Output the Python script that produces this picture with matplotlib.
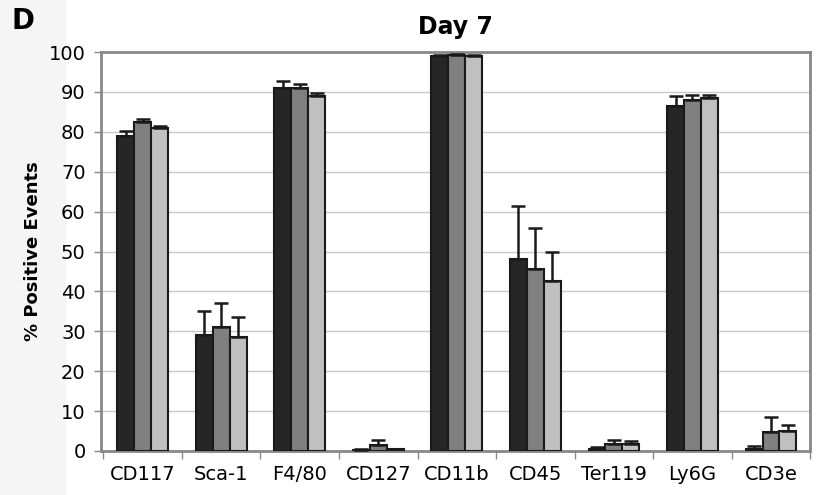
import matplotlib.pyplot as plt
import numpy as np

markers = ['CD117', 'Sca-1', 'F4/80', 'CD127', 'CD11b', 'CD45', 'Ter119', 'Ly6G', 'CD3e']

# three groups per marker, mean % positive and upper error
group1 = [79.0, 29.0, 91.0, 0.3, 99.0, 48.0, 0.5, 86.5, 0.5]
group2 = [82.5, 31.0, 91.0, 1.5, 99.2, 45.5, 1.8, 88.0, 4.7]
group3 = [81.0, 28.5, 89.0, 0.4, 99.0, 42.5, 1.8, 88.5, 5.0]
err1 = [1.3, 6.0, 1.8, 0.2, 0.3, 13.5, 0.5, 2.5, 0.8]
err2 = [0.8, 6.0, 1.0, 1.2, 0.2, 10.5, 0.9, 1.3, 3.8]
err3 = [0.5, 5.0, 0.8, 0.2, 0.2, 7.5, 0.7, 0.8, 1.5]

colors = ['#262626', '#808080', '#c0c0c0']

fig = plt.figure(figsize=(8.18, 4.95), dpi=100)
fig.patches.append(plt.Rectangle((0, 0), 0.079, 1, transform=fig.transFigure,
                                 color='#f5f5f5', zorder=-1))
ax = fig.add_axes([0.1235, 0.0889, 0.867, 0.806])

x = np.arange(len(markers))
w = 0.215
for i, (vals, errs) in enumerate(zip([group1, group2, group3], [err1, err2, err3])):
    ax.bar(x + (i - 1) * w, vals, w, color=colors[i], edgecolor='#1a1a1a',
           linewidth=1.5, zorder=3)
    ax.errorbar(x + (i - 1) * w, vals, yerr=[np.zeros(len(errs)), errs], fmt='none',
                ecolor='#1a1a1a', elinewidth=1.8, capsize=5, capthick=1.8, zorder=4)

ax.set_xlim(-0.53, len(markers) - 0.5)
ax.set_ylim(0, 100)
ax.set_yticks(range(0, 101, 10))
ax.set_xticks(x)
ax.set_xticklabels(markers, fontsize=14)
ax.set_xticks(np.arange(-0.5, len(markers)), minor=True)
ax.tick_params(axis='x', which='major', length=0, pad=10)
ax.tick_params(axis='x', which='minor', length=6, color='#888888', width=1)
ax.tick_params(axis='y', labelsize=14, length=5, color='#888888', width=1, pad=6)
ax.yaxis.grid(True, color='#c8c8c8', linewidth=1, zorder=0)
ax.set_axisbelow(True)
for side in ['left', 'right', 'top', 'bottom']:
    ax.spines[side].set_color('#888888')
    ax.spines[side].set_linewidth(2)

ax.set_ylabel('% Positive Events', fontsize=13, fontweight='bold', labelpad=5)
ax.set_title('Day 7', fontsize=17, fontweight='bold', pad=13)
fig.text(0.014, 0.957, 'D', fontsize=20, fontweight='bold', va='center')

fig.savefig('out.png', dpi=100)
